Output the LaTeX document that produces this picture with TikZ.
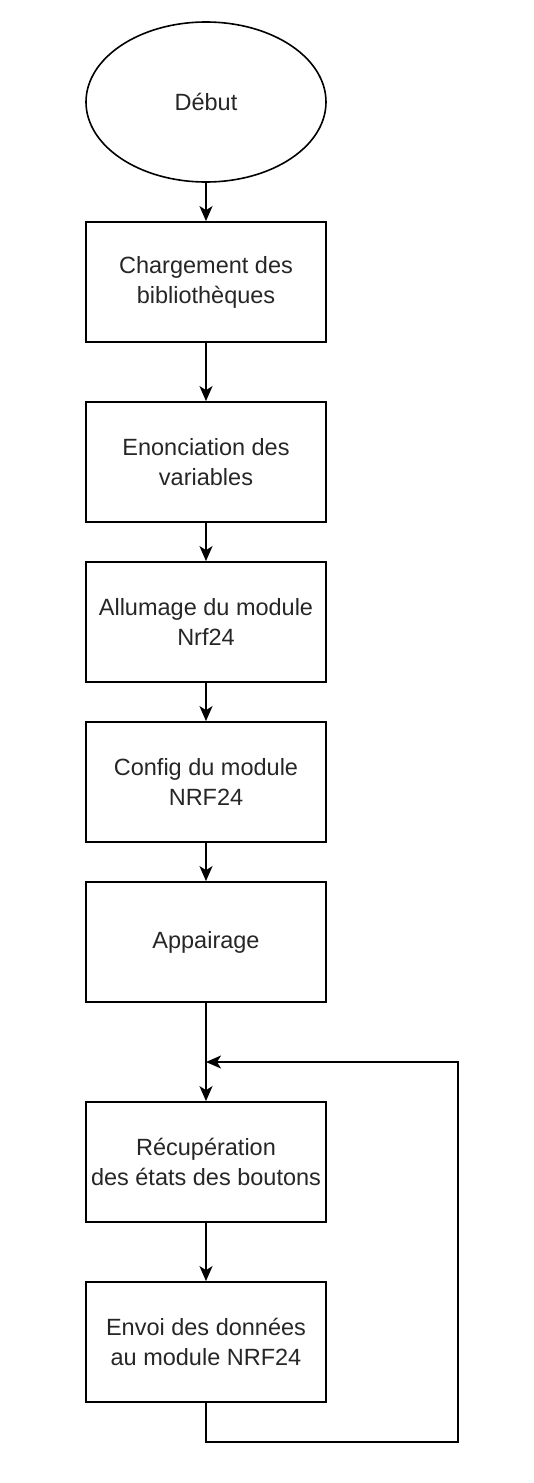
\documentclass[tikz,border=0pt]{standalone}
\usepackage{fontspec}
\setmainfont{Liberation Sans}
\usetikzlibrary{arrows.meta,shapes.geometric}
\begin{document}
\begin{tikzpicture}[x=1pt,y=-1pt,
  every node/.style={font=\fontsize{23.5}{30}\selectfont, align=center, text=black!85},
  stepbox/.style={draw, line width=1.8pt, minimum width=240pt, minimum height=120pt, inner sep=0pt},
  startell/.style={draw, ellipse, line width=1.6pt, minimum width=240pt, minimum height=160pt, inner sep=0pt},
  conn/.style={line width=1.8pt, -{Stealth[length=15pt,width=13pt,inset=4pt]}},
  plain/.style={line width=1.8pt}]
\useasboundingbox (0,0) rectangle (534,1483);
\node[startell] (start) at (206,102) {Début};
\node[stepbox] (b1) at (206,282) {Chargement des\\bibliothèques};
\node[stepbox] (b2) at (206,462) {Enonciation des\\variables};
\node[stepbox] (b3) at (206,622) {Allumage du module\\Nrf24};
\node[stepbox] (b4) at (206,782) {Config du module\\NRF24};
\node[stepbox] (b5) at (206,942) {Appairage};
\node[stepbox] (b6) at (206,1162) {Récupération\\des états des boutons};
\node[stepbox] (b7) at (206,1342) {Envoi des données\\au module NRF24};
\coordinate (c1) at (206,1442);
\coordinate (c2) at (458,1442);
\coordinate (c3) at (458,1062);
\coordinate (c4) at (206,1062);
\draw[conn] (start) -- (b1);
\draw[conn] (b1) -- (b2);
\draw[conn] (b2) -- (b3);
\draw[conn] (b3) -- (b4);
\draw[conn] (b4) -- (b5);
\draw[conn] (b5) -- (b6);
\draw[conn] (b6) -- (b7);
\draw[conn] (b7.south) -- (c1) -- (c2) -- (c3) -- (c4);
\end{tikzpicture}
\end{document}
